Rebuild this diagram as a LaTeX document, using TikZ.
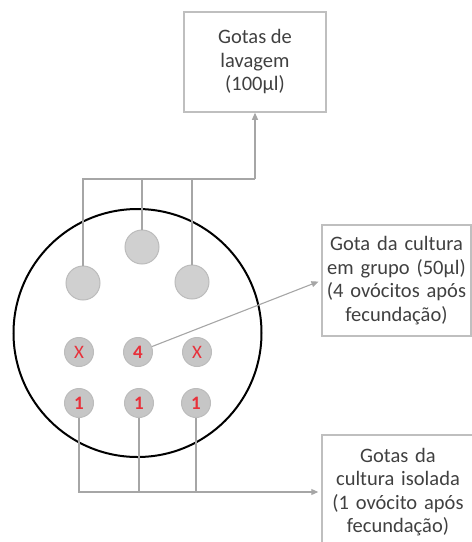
\documentclass[tikz,border=0pt]{standalone}
\usepackage{fontspec}
\setmainfont{Carlito}
\usetikzlibrary{arrows.meta}

\definecolor{linegray}{HTML}{A6A6A6}
\definecolor{boxgray}{HTML}{BFBFBF}
\definecolor{textgray}{HTML}{404040}
\definecolor{dropfill}{HTML}{D0D0D0}
\definecolor{dropedge}{HTML}{BCBCBC}
\definecolor{dropred}{HTML}{E8303A}

\begin{document}
\begin{tikzpicture}[x=1pt, y=-1pt,
    box/.style={draw=boxgray, line width=1.5pt, align=center, text=textgray,
        font=\fontsize{20.5}{23.5}\selectfont, inner sep=2pt},
    dish/.style={circle, draw=black, line width=2pt, inner sep=0pt},
    bigdrop/.style={circle, draw=dropedge, fill=dropfill, line width=1pt,
        minimum size=34pt, inner sep=0pt},
    smalldrop/.style={circle, draw=dropedge, fill=dropfill!95!black, line width=1pt,
        minimum size=29pt, inner sep=0pt, text=dropred,
        font=\fontsize{19}{19}\selectfont\bfseries},
    crossdrop/.style={smalldrop, font=\fontsize{19}{19}\selectfont},
    conn/.style={draw=linegray, line width=1.1pt},
    arr/.style={conn, -{Triangle[length=7pt, width=6pt]}, shorten >=3pt}]

    % 描画範囲
    \useasboundingbox (0,0) rectangle (472,542);
    \clip (0,0) rectangle (472,542);

    % 皿とドロップ
    \node[dish, minimum size=248pt] (dish) at (137.5,333) {};

    \node[bigdrop] (dL) at (83,283) {};
    \node[bigdrop] (dC) at (142,247) {};
    \node[bigdrop] (dR) at (192,282) {};

    \node[crossdrop] (xL) at (79,352) {X};
    \node[smalldrop] (s4) at (138,352) {4};
    \node[crossdrop] (xR) at (197,352) {X};

    \node[smalldrop] (s1a) at (79,403) {1};
    \node[smalldrop] (s1b) at (139,403) {1};
    \node[smalldrop] (s1c) at (196,403) {1};

    % 説明の箱
    \node[box, minimum width=142pt, minimum height=100pt] (lavagem) at (255,62)
        {Gotas de\\lavagem\\(100µl)};
    \node[box, minimum width=149pt, minimum height=111pt, text width=143pt] (grupo) at (396.5,280.5)
        {Gota da cultura\\em grupo (50µl)\\(4 ovócitos após\\fecundação)};
    \node[box, minimum width=152pt, minimum height=114pt, text width=143pt] (isolada) at (398,492)
        {Gotas da\\cultura isolada\\(1 ovócito após\\fecundação)};

    % 線の描画
    \coordinate (jTop) at (255,179);
    \draw[conn] (dL.north) |- (jTop);
    \draw[conn] (dC.north) -- (dC.north |- jTop);
    \draw[conn] (dR.north) -- (dR.north |- jTop);
    \draw[arr, shorten >=0pt] (jTop) -- (lavagem.south);

    \draw[arr] (s4) -- (grupo.west);

    \draw[arr] (s1a.south) |- (isolada.west);
    \draw[conn] (s1b.south) -- (s1b.south |- isolada.west);
    \draw[conn] (s1c.south) -- (s1c.south |- isolada.west);

\end{tikzpicture}
\end{document}
